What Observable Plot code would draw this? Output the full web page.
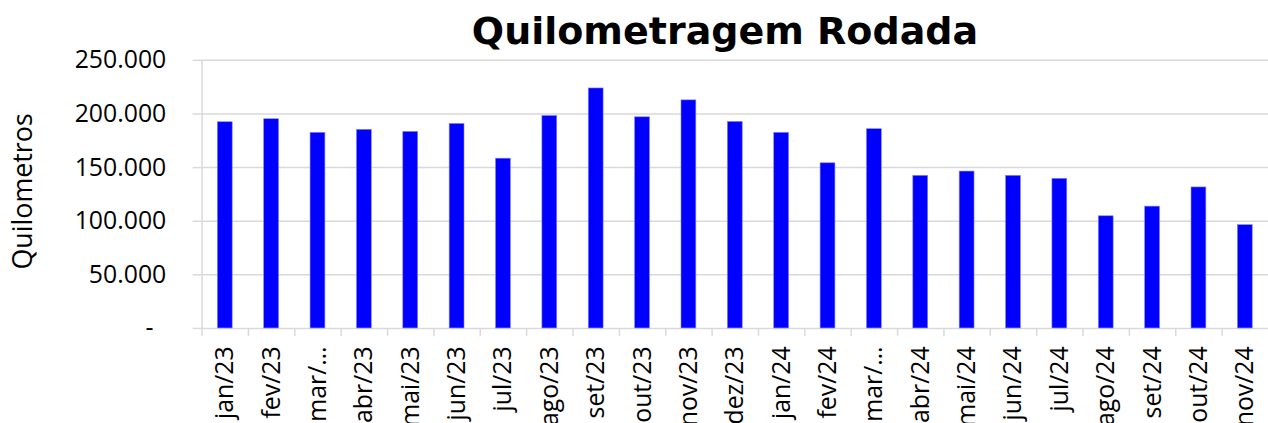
<!DOCTYPE html>
<html>
<head>
<meta charset="utf-8">
<script src="https://cdn.jsdelivr.net/npm/d3@7"></script>
<script src="https://cdn.jsdelivr.net/npm/@observablehq/plot@0.6"></script>
<style>
  html, body { margin: 0; padding: 0; background: #fff; overflow: hidden; width: 1268px; height: 423px; }
  #title { position: absolute; z-index: 2; left: 725px; top: 9px; transform: translateX(-50%); white-space: nowrap;
           font-family: "DejaVu Sans", sans-serif; font-weight: bold; font-size: 38px; color: #000; }
  #chart { position: absolute; z-index: 1; left: 0; top: 40px; }
</style>
</head>
<body>
<div id="title">Quilometragem Rodada</div>
<div id="chart"></div>
<script>
const months = ["jan/23","fev/23","mar/23","abr/23","mai/23","jun/23","jul/23","ago/23","set/23","out/23","nov/23","dez/23",
                "jan/24","fev/24","mar/24","abr/24","mai/24","jun/24","jul/24","ago/24","set/24","out/24","nov/24"];
const tickLabels = ["jan/23","fev/23","mar/…","abr/23","mai/23","jun/23","jul/23","ago/23","set/23","out/23","nov/23","dez/23",
                "jan/24","fev/24","mar/…","abr/24","mai/24","jun/24","jul/24","ago/24","set/24","out/24","nov/24"];
const km = [192300,195100,182400,185200,183300,190700,158300,198100,223800,196900,212700,192600,
            182400,154000,185800,142300,146300,142300,139500,104600,113600,131500,96300];
const yTicks = [0,50000,100000,150000,200000,250000];

const data = months.map((m, i) => ({month: m, km: km[i]}));
const labelOf = new Map(months.map((m, i) => [m, tickLabels[i]]));
const fmt = d3.formatLocale({thousands: ".", grouping: [3], decimal: ",", currency: ["", ""]}).format(",d");

const W = 1277, H = 383, ML = 203, MR = 0, MT = 20, MB = 93;
const step = (W - ML - MR) / months.length;
const grid = "#d9d9d9";
const font = "Open Sans, sans-serif";

const chart = Plot.plot({
  width: W, height: H,
  marginLeft: ML, marginRight: MR, marginTop: MT, marginBottom: MB,
  style: {fontFamily: font, background: "transparent", overflow: "visible"},
  x: {type: "band", domain: months, paddingInner: 0.68, paddingOuter: 0.34, round: false, axis: null},
  y: {domain: [0, 250000], axis: null},
  marks: [
    Plot.gridY(yTicks, {stroke: grid, strokeOpacity: 1, strokeWidth: 1.5}),
    Plot.frame({anchor: "left", stroke: grid, strokeWidth: 1.5}),
    Plot.axisY(yTicks, {tickSize: 9, tickPadding: 27, stroke: grid, strokeWidth: 1.5, fill: "black",
      fontSize: 25, label: null,
      tickFormat: d => d === 0 ? "-\u00a0\u00a0" : fmt(d)}),
    Plot.axisX(months, {tickSize: 8, text: null, dx: -step / 2, stroke: grid, strokeWidth: 1.5, label: null}),
    Plot.barY(data, {x: "month", y: "km", fill: "#0000ff", stroke: "#8080ff", strokeWidth: 0.6}),
    Plot.axisX(months, {tickSize: 0, tickPadding: 18, tickRotate: -90, fontSize: 25, fill: "black",
      tickFormat: d => labelOf.get(d), label: null}),
    Plot.text(["Quilometros"], {frameAnchor: "left", textAnchor: "middle", rotate: -90, dx: -180, dy: -3,
      fontSize: 27, fill: "black"})
  ]
});
document.getElementById("chart").appendChild(chart);
</script>
</body>
</html>
